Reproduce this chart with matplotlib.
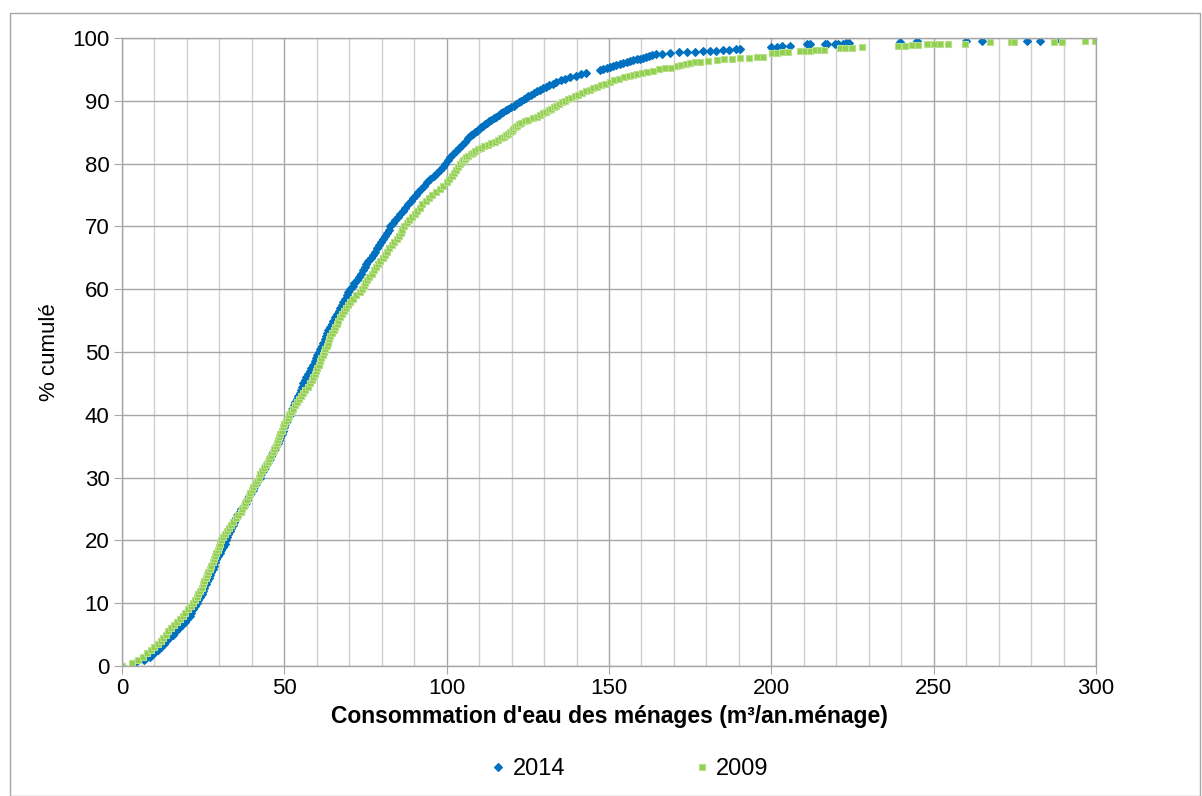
import matplotlib
matplotlib.use("Agg")
import matplotlib.pyplot as plt
from matplotlib.ticker import MultipleLocator
from matplotlib.patches import Rectangle

plt.rcParams['font.family'] = ['Liberation Sans', 'DejaVu Sans']

# 2014 : cumulative % vs consumption (m3/an.menage)
y_2014 = [0, 0.5, 1, 1.5, 2, 2.5, 3, 3.5, 4, 4.5, 5, 5.5, 6, 6.5, 7, 7.5, 8, 8.5, 9, 9.5,
          10, 10.5, 11, 11.5, 12, 12.5, 13, 13.5, 14, 14.5, 15, 15.5, 16, 16.5, 17, 17.5, 18, 18.5, 19, 19.5,
          20, 20.5, 21, 21.5, 22, 22.5, 23, 23.5, 24, 24.5, 25, 25.5, 26, 26.5, 27, 27.5, 28, 28.5, 29, 29.5,
          30, 30.5, 31, 31.5, 32, 32.5, 33, 33.5, 34, 34.5, 35, 35.5, 36, 36.5, 37, 37.5, 38, 38.5, 39, 39.5,
          40, 40.5, 41, 41.5, 42, 42.5, 43, 43.5, 44, 44.5, 45, 45.5, 46, 46.5, 47, 47.5, 48, 48.5, 49, 49.5,
          50, 50.5, 51, 51.5, 52, 52.5, 53, 53.5, 54, 54.5, 55, 55.5, 56, 56.5, 57, 57.5, 58, 58.5, 59, 59.5,
          60, 60.5, 61, 61.5, 62, 62.5, 63, 63.5, 64, 64.5, 65, 65.5, 66, 66.5, 67, 67.5, 68, 68.5, 69, 69.5,
          70, 70.5, 71, 71.5, 72, 72.5, 73, 73.5, 74, 74.5, 75, 75.5, 76, 76.5, 77, 77.5, 78, 78.5, 79, 79.5,
          80, 80.5, 81, 81.5, 82, 82.5, 83, 83.5, 84, 84.25, 84.5, 84.75,
          85, 85.25, 85.5, 85.75, 86, 86.25, 86.5, 86.75, 87, 87.25, 87.5, 87.75, 88, 88.25, 88.5, 88.75,
          89, 89.25, 89.5, 89.75, 90, 90.25, 90.5, 90.75, 91, 91.25, 91.5, 91.75, 92, 92.25, 92.5, 92.75,
          93, 93.25, 93.5, 93.75, 94, 94.25, 94.5,
          94.9, 95.05, 95.2, 95.35, 95.5, 95.65, 95.8, 96.0, 96.2, 96.35, 96.5, 96.6, 96.7, 96.85, 97.0, 97.15,
          97.3, 97.4, 97.5, 97.6, 97.7, 97.7, 97.8, 97.9, 98.0, 98.0, 98.1, 98.1, 98.2, 98.2,
          98.6, 98.6, 98.7, 98.8, 99.0, 99.0, 99.0, 99.0, 99.1, 99.1, 99.1, 99.2, 99.2,
          99.4, 99.5, 99.5, 99.5, 99.5, 99.6, 99.8]
x_2014 = [0, 4, 6.8, 8.5, 9.8, 11.0, 12.0, 12.8, 13.6, 14.6, 15.7, 16.6, 17.6, 18.5, 19.3, 20.1, 20.8, 21.4, 22.0, 22.5,
          23.0, 23.5, 24.0, 24.5, 25.0, 25.4, 25.9, 26.3, 26.7, 27.1, 27.5, 27.9, 28.3, 28.7, 29.1, 29.6, 30.1, 30.6, 31.1, 31.6,
          32.0, 32.4, 32.8, 33.2, 33.6, 34.1, 34.5, 35.0, 35.5, 36.2, 36.8, 37.6, 38.1, 38.6, 39.1, 39.6, 40.2, 40.7, 41.2, 41.7,
          42.4, 42.9, 43.4, 43.9, 44.4, 45.0, 45.5, 46.0, 46.5, 47.0, 47.5, 47.9, 48.3, 48.8, 49.2, 49.6, 50.0, 50.3, 50.8, 51.2,
          51.7, 52.1, 52.5, 52.9, 53.3, 53.8, 54.3, 54.7, 55.1, 55.5, 55.9, 56.3, 56.8, 57.3, 57.8, 58.3, 58.8, 59.3, 59.8, 60.2,
          60.6, 61.0, 61.5, 62.0, 62.5, 62.9, 63.2, 63.6, 64.1, 64.6, 65.1, 65.6, 66.2, 66.7, 67.2, 67.7, 68.2, 68.7, 69.2, 69.7,
          70.3, 71.0, 71.6, 72.3, 72.9, 73.5, 74.1, 74.7, 75.3, 75.9, 76.6, 77.3, 77.9, 78.5, 79.1, 79.7, 80.3, 80.9, 81.5, 82.1,
          82.7, 83.4, 84.1, 84.9, 85.7, 86.5, 87.3, 88.1, 88.9, 89.7, 90.5, 91.3, 92.1, 93.0, 94.0, 95.0, 96.0, 97.0, 97.9, 98.8,
          99.5, 100.3, 101.0, 101.9, 102.8, 103.7, 104.6, 105.5, 106.5, 107.0, 107.6, 108.1,
          108.7, 109.3, 109.9, 110.5, 111.2, 111.8, 112.5, 113.1, 113.8, 114.5, 115.2, 116.0, 116.7, 117.4, 118.2, 119.0,
          119.8, 120.6, 121.4, 122.2, 123.0, 123.7, 124.5, 125.2, 126.0, 126.8, 127.7, 128.6, 129.6, 130.6, 131.6, 132.7,
          133.8, 135.1, 136.5, 138.1, 139.8, 141.4, 143.0,
          147.2, 148.3, 149.5, 150.4, 151.3, 152.3, 153.3, 154.4, 155.4, 156.5, 157.5, 158.5, 159.5, 160.4, 161.3, 162.2,
          163.1, 164.6, 166.2, 168.8, 171.5, 174.0, 176.5, 178.8, 181.0, 183.0, 185.0, 187.0, 189.0, 190.5,
          200.0, 201.6, 203.2, 205.7, 210.9, 211.9, 216.5, 217.0, 219.6, 220.6, 222.0, 223.0, 224.0,
          239.6, 245.0, 260.0, 265.0, 278.7, 282.7, 288.0]

# 2009
y_2009 = [0, 0.5, 1, 1.5, 2, 2.5, 3, 3.5, 4, 4.5, 5, 5.5, 6, 6.5, 7, 7.5, 8, 8.5, 9, 9.5,
          10, 10.5, 11, 11.5, 12, 12.5, 13, 13.5, 14, 14.5, 15, 15.5, 16, 16.5, 17, 17.5, 18, 18.5, 19, 19.5,
          20, 20.5, 21, 21.5, 22, 22.5, 23, 23.5, 24, 24.5, 25, 25.5, 26, 26.5, 27, 27.5, 28, 28.5, 29, 29.5,
          30, 30.5, 31, 31.5, 32, 32.5, 33, 33.5, 34, 34.5, 35, 35.5, 36, 36.5, 37, 37.5, 38, 38.5, 39, 39.5,
          40, 40.5, 41, 41.5, 42, 42.5, 43, 43.5, 44, 44.5, 45, 45.5, 46, 46.5, 47, 47.5, 48, 48.5, 49, 49.5,
          50, 50.5, 51, 51.5, 52, 52.5, 53, 53.5, 54, 54.5, 55, 55.5, 56, 56.5, 57, 57.5, 58, 58.5, 59, 59.5,
          60, 60.5, 61, 61.5, 62, 62.5, 63, 63.5, 64, 64.5, 65, 65.5, 66, 66.5, 67, 67.5, 68, 68.5, 69, 69.5,
          70, 70.5, 71, 71.5, 72, 72.5, 73, 73.5, 74, 74.5, 75, 75.5, 76, 76.5, 77, 77.5, 78, 78.5, 79, 79.5,
          80, 80.25, 80.5, 80.75, 81, 81.25, 81.5, 81.75, 82, 82.25, 82.5, 82.75, 83, 83.25, 83.5, 83.75,
          84, 84.25, 84.5, 84.75, 85, 85.25, 85.5, 85.75, 86, 86.25, 86.5, 86.75, 87, 87.25, 87.5, 87.75,
          88, 88.25, 88.5, 88.75, 89, 89.25, 89.5, 89.75, 90, 90.25, 90.5, 90.75, 91, 91.25, 91.5, 91.75,
          92, 92.25, 92.5, 92.75, 93, 93.25, 93.5, 93.75, 94, 94.15, 94.3, 94.5, 94.65, 94.8, 95, 95.15,
          95.3, 95.5, 95.65, 95.8, 96, 96.1, 96.2, 96.35, 96.5, 96.6, 96.7, 96.8, 96.85, 96.95, 97.0,
          97.6, 97.65, 97.7, 97.8, 98.0, 98.0, 98.0, 98.05, 98.1, 98.1, 98.4, 98.4, 98.45, 98.5,
          98.7, 98.8, 98.85, 98.9, 99.0, 99.05, 99.1, 99.1, 99.1, 99.3, 99.3, 99.3, 99.4, 99.4, 99.5, 99.6]
x_2009 = [0, 3.0, 5.0, 6.6, 7.8, 9.0, 10.0, 11.0, 11.9, 12.7, 13.5, 14.3, 15.1, 16.0, 17.0, 17.9, 18.8, 19.5, 20.3, 21.1,
          21.8, 22.4, 23.0, 23.5, 24.0, 24.5, 24.9, 25.4, 25.8, 26.2, 26.6, 27.0, 27.4, 27.9, 28.3, 28.7, 29.1, 29.5, 29.9, 30.2,
          30.6, 31.2, 31.8, 32.4, 33.0, 33.6, 34.3, 35.0, 35.8, 36.5, 37.1, 37.6, 38.0, 38.5, 39.0, 39.5, 39.9, 40.4, 40.9, 41.5,
          42.1, 42.6, 43.2, 43.8, 44.4, 44.9, 45.4, 45.9, 46.4, 46.9, 47.3, 47.6, 48.0, 48.4, 48.8, 49.2, 49.6, 50.0, 50.5, 51.0,
          51.5, 52.0, 52.6, 53.2, 53.8, 54.4, 55.1, 55.8, 56.5, 57.4, 57.9, 58.4, 58.9, 59.4, 59.8, 60.2, 60.6, 61.0, 61.4, 61.8,
          62.2, 62.6, 63.0, 63.4, 63.8, 64.2, 64.7, 65.2, 65.6, 66.1, 66.6, 67.1, 67.7, 68.3, 69.0, 69.6, 70.3, 71.1, 72.1, 73.2,
          73.9, 74.4, 74.9, 75.4, 76.1, 76.9, 77.6, 78.3, 79.0, 79.6, 80.3, 80.9, 81.5, 82.3, 83.1, 83.9, 84.7, 85.3, 85.8, 86.3,
          86.9, 87.7, 88.5, 89.3, 90.1, 90.9, 91.7, 92.5, 93.6, 94.5, 95.4, 96.7, 97.9, 99.0, 100.0, 100.8, 101.6, 102.3, 102.9, 103.5,
          104.2, 104.6, 105.0, 105.5, 106.0, 106.7, 107.4, 108.1, 108.8, 109.7, 110.6, 111.6, 112.6, 113.7, 114.8, 115.8,
          116.8, 117.6, 118.3, 118.9, 119.4, 120.0, 120.5, 121.1, 121.7, 122.3, 123.0, 124.1, 125.2, 126.5, 127.8, 128.8,
          129.8, 130.6, 131.4, 132.2, 133.0, 133.8, 134.6, 135.5, 136.4, 137.4, 138.4, 139.4, 140.5, 141.6, 142.8, 144.0,
          145.2, 146.3, 147.5, 148.8, 150.2, 151.6, 153.0, 154.6, 156.3, 157.5, 158.7, 160.2, 161.8, 163.4, 165.5, 167.3,
          169.0, 170.8, 172.2, 173.6, 175.0, 176.5, 178.0, 180.5, 183.2, 185.5, 188.0, 190.5, 193.0, 195.5, 197.5,
          200.1, 201.6, 203.2, 205.2, 208.8, 210.3, 211.9, 213.4, 215.0, 216.2, 221.2, 222.8, 224.7, 227.8,
          239.1, 241.2, 243.3, 245.3, 247.9, 250.0, 252.0, 254.5, 259.6, 267.3, 273.8, 274.8, 287.0, 289.5, 296.6, 299.7]

fig = plt.figure(figsize=(12.02, 7.96), dpi=100)
ax = fig.add_axes([122 / 1202, 1 - 666 / 796, (1096 - 122) / 1202, (666 - 38) / 796])

ax.plot(x_2014, y_2014, linestyle='none', marker='D', markersize=3.8, color='#0070C0',
        markeredgecolor='#0070C0', markeredgewidth=0.8, label='2014')
ax.plot(x_2009, y_2009, linestyle='none', marker='s', markersize=5.0, color='#92D050',
        markeredgecolor='#B8E08C', markeredgewidth=0.8, label='2009')

ax.set_xlim(0, 300)
ax.set_ylim(0, 100)
ax.xaxis.set_major_locator(MultipleLocator(50))
ax.xaxis.set_minor_locator(MultipleLocator(10))
ax.yaxis.set_major_locator(MultipleLocator(10))
ax.grid(True, which='major', color='#A6A6A6', linewidth=1.0)
ax.grid(True, which='minor', axis='x', color='#CFCFCF', linewidth=1.0)
ax.set_axisbelow(True)
for s in ax.spines.values():
    s.set_color('#A6A6A6')
    s.set_linewidth(1.0)
ax.tick_params(which='major', length=6, color='#A6A6A6', labelsize=16, pad=3)
ax.tick_params(which='minor', length=0)

ax.set_xlabel("Consommation d'eau des ménages (m³/an.ménage)", fontsize=16.5, fontweight='bold', labelpad=4)
ax.set_ylabel('% cumulé', fontsize=16, labelpad=9)

fig.legend(loc='center', bbox_to_anchor=(0.523, 0.034), ncol=2, frameon=False, fontsize=17,
           handletextpad=0.2, columnspacing=5.4, handlelength=0.8, markerscale=1.0)

fig.add_artist(Rectangle((10 / 1202, 0.5 / 796), 1190 / 1202, (783 - 0.5) / 796, transform=fig.transFigure,
                         fill=False, edgecolor='#A6A6A6', linewidth=1.0))

fig.savefig('out.png', dpi=100)
